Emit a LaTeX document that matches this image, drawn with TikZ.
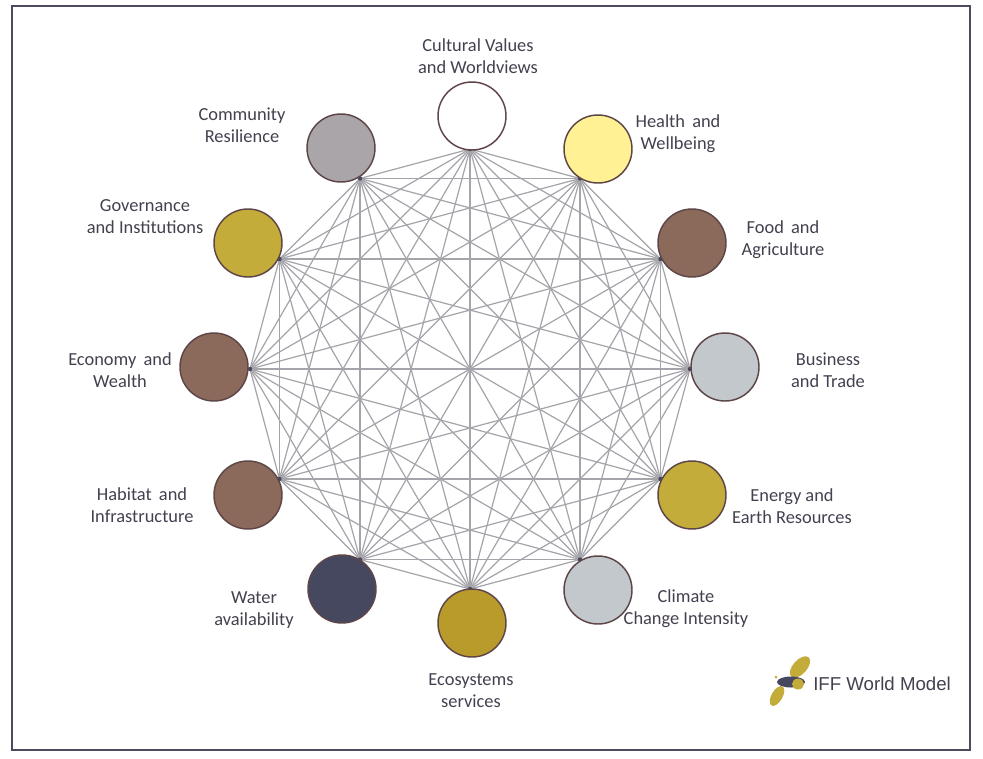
\documentclass[tikz,border=0pt]{standalone}
\usepackage{fontspec}
\setmainfont{Carlito}
\newfontfamily\logofont{Liberation Sans}
\definecolor{framec}{HTML}{4B4B60}
\definecolor{linec}{HTML}{A4A4AA}
\definecolor{edgec}{HTML}{5E4648}
\definecolor{textc}{HTML}{45404F}
\definecolor{creamy}{HTML}{FFF194}
\definecolor{brownc}{HTML}{8B6A5C}
\definecolor{palec}{HTML}{C2C8CC}
\definecolor{olivec}{HTML}{C4AC3A}
\definecolor{goldc}{HTML}{B99B2C}
\definecolor{inkc}{HTML}{46485F}
\definecolor{greyc}{HTML}{A9A5A9}
\tikzset{
  x=0.75pt,y=-0.75pt,
  ball/.style={circle,draw=edgec,line width=1.1pt,minimum size=51pt,inner sep=0pt},
  lab/.style={align=center,text=textc,font=\fontsize{13.8}{16.5}\selectfont,inner sep=0pt},
  link/.style={draw=linec,line width=0.9pt},
}
\begin{document}
\begin{tikzpicture}
\useasboundingbox (0,0) rectangle (983,758);
\fill[white] (0,0) rectangle (983,758);
\draw[framec,line width=1.5pt] (12,5.5) rectangle (970,750);
% hubs
\foreach \n/\a in {0/90,1/60,2/30,3/0,4/-30,5/-60,6/-90,7/-120,8/-150,9/180,10/150,11/120}{
  \coordinate (h\n) at ({470+220*cos(\a)},{369-220*sin(\a)});
}
% connectors
\foreach \i in {0,...,10}{
  \pgfmathtruncatemacro{\s}{\i+1}
  \foreach \j in {\s,...,11}{
    \draw[link] (h\i) -- (h\j);
  }
}
\foreach \i in {0,...,11}{ \fill[inkc] (h\i) circle (2.2); }
% circles
\node[ball,fill=white]   (cult) at (472,116) {};
\node[ball,fill=creamy]  (heal) at (598,149) {};
\node[ball,fill=brownc]  (food) at (692,243) {};
\node[ball,fill=palec]   (busi) at (725,367) {};
\node[ball,fill=olivec]  (ener) at (692,495) {};
\node[ball,fill=palec]   (clim) at (598,590) {};
\node[ball,fill=goldc]   (ecos) at (472,623) {};
\node[ball,fill=inkc]    (watr) at (342,589) {};
\node[ball,fill=brownc]  (habi) at (248,495) {};
\node[ball,fill=brownc]  (econ) at (214,367) {};
\node[ball,fill=olivec]  (govn) at (248,243) {};
\node[ball,fill=greyc]   (comm) at (341,148) {};
% labels
\node[lab] (tcult) at (478,56)  {Cultural Values\\and Worldviews};
\node[lab] (theal) at (678,134) {Health\, and\\Wellbeing};
\node[lab] (tfood) at (783,240) {Food\, and\\Agriculture};
\node[lab] (tbusi) at (828,370) {Business\\and Trade};
\node[lab] (tener) at (792,506) {Energy and\\Earth Resources};
\node[lab] (tclim) at (686,609) {Climate\\Change Intensity};
\node[lab] (tecos) at (471,691) {Ecosystems\\services};
\node[lab] (twatr) at (254,610) {Water\\availability};
\node[lab] (thabi) at (142,505) {Habitat\, and\\Infrastructure};
\node[lab] (tecn)  at (120,370) {Economy\, and\\Wealth};
\node[lab] (tgov)  at (145,217) {Governance\\and Institutions};
\node[lab] (tcom)  at (242,125) {Community\\Resilience};
% logo
\fill[olivec,rotate around={48:(800,667)}] (800,667) ellipse (13 and 7);
\fill[olivec,rotate around={60:(777,696)}] (777,696) ellipse (11 and 5.5);
\fill[inkc] (791,682) ellipse (14 and 5.5);
\fill[olivec] (798,684) ellipse (6 and 5.5);
\fill[olivec] (776,677) circle (1.5);
\node[inner sep=0pt,anchor=west,text=textc,font=\logofont\fontsize{14}{16}\selectfont] (logo) at (813,684) {IFF World Model};
\end{tikzpicture}
\end{document}
